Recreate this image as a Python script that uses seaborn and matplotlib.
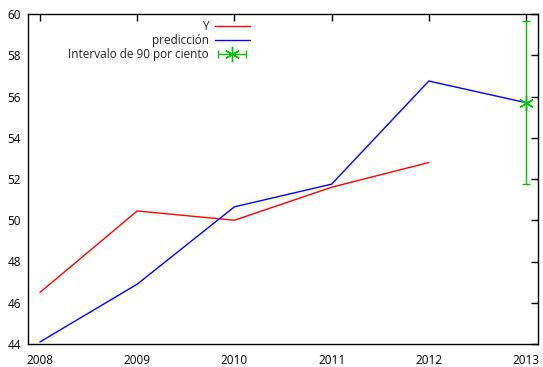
import numpy as np
import pandas as pd
import matplotlib
matplotlib.use("Agg")
import matplotlib.pyplot as plt
import seaborn as sns
from matplotlib.lines import Line2D
from matplotlib.legend_handler import HandlerLine2D, HandlerTuple

years_obs = [2008, 2009, 2010, 2011, 2012]
y_obs = [46.5, 50.45, 50.0, 51.6, 52.8]
years_pred = [2008, 2009, 2010, 2011, 2012, 2013]
y_pred = [44.1, 46.9, 50.65, 51.75, 56.75, 55.7]
fc_year = [2013]
fc_value = [55.7]
fc_low = [51.75]
fc_high = [59.65]

labels = ["Y", "predicción", "Intervalo de 90 por ciento"]

sns.set_style("white")
plt.rcParams["font.family"] = ["Open Sans", "DejaVu Sans"]

fig = plt.figure(figsize=(5.43, 3.67), dpi=100)
ax = fig.add_axes([28 / 543, 23 / 367, 510 / 543, 330 / 367])

obs = pd.DataFrame({"year": years_obs, "value": y_obs})
pred = pd.DataFrame({"year": years_pred, "value": y_pred})

sns.lineplot(data=obs, x="year", y="value", color="#ff0000", lw=1, ax=ax)
sns.lineplot(data=pred, x="year", y="value", color="#0000ff", lw=1, ax=ax)

green = "#00c000"
star = (6, 2, 0)
lo = np.array(fc_value) - np.array(fc_low)
hi = np.array(fc_high) - np.array(fc_value)
ax.errorbar(fc_year, fc_value, yerr=[lo, hi], fmt="none", ecolor=green,
            elinewidth=1, capsize=3, capthick=1)
ax.plot(fc_year, fc_value, linestyle="none", marker=star, markersize=11,
        markeredgecolor=green, markeredgewidth=1, color=green)

ax.set_xlim(2007.877, 2013.123)
ax.set_ylim(44, 60)
ax.set_xticks(years_pred)
ax.set_xticklabels([str(y) for y in years_pred])
ax.set_yticks(np.arange(44, 61, 2))
ax.set_xlabel("")
ax.set_ylabel("")
for s in ax.spines.values():
    s.set_color("black")
    s.set_linewidth(1)
ax.tick_params(direction="in", length=5, width=1, top=True, right=True,
               labelsize=8.5, colors="black")
ax.tick_params(axis="x", pad=7)
ax.tick_params(axis="y", pad=5)

# legend entries: plain lines, and a capped horizontal bar with a star
h_y = Line2D([], [], color="#ff0000", lw=1)
h_p = Line2D([], [], color="#0000ff", lw=1)
h_bar = Line2D([], [], color=green, lw=1, marker="|", markersize=6,
               markeredgewidth=1)
h_star = Line2D([], [], color=green, linestyle="none", marker=star,
                markersize=11, markeredgewidth=1)
leg = ax.legend([h_y, h_p, (h_bar, h_star)], labels, loc="upper right",
                bbox_to_anchor=(222 / 510, 0.982), frameon=False,
                markerfirst=False, fontsize=8.5, handlelength=3.0,
                handletextpad=0.5, labelspacing=0.1, borderaxespad=0,
                borderpad=0,
                handler_map={h_bar: HandlerLine2D(numpoints=2),
                             h_star: HandlerLine2D(numpoints=1),
                             tuple: HandlerTuple(ndivide=1)})
leg._legend_box.align = "right"

fig.savefig("out.png", dpi=100)
